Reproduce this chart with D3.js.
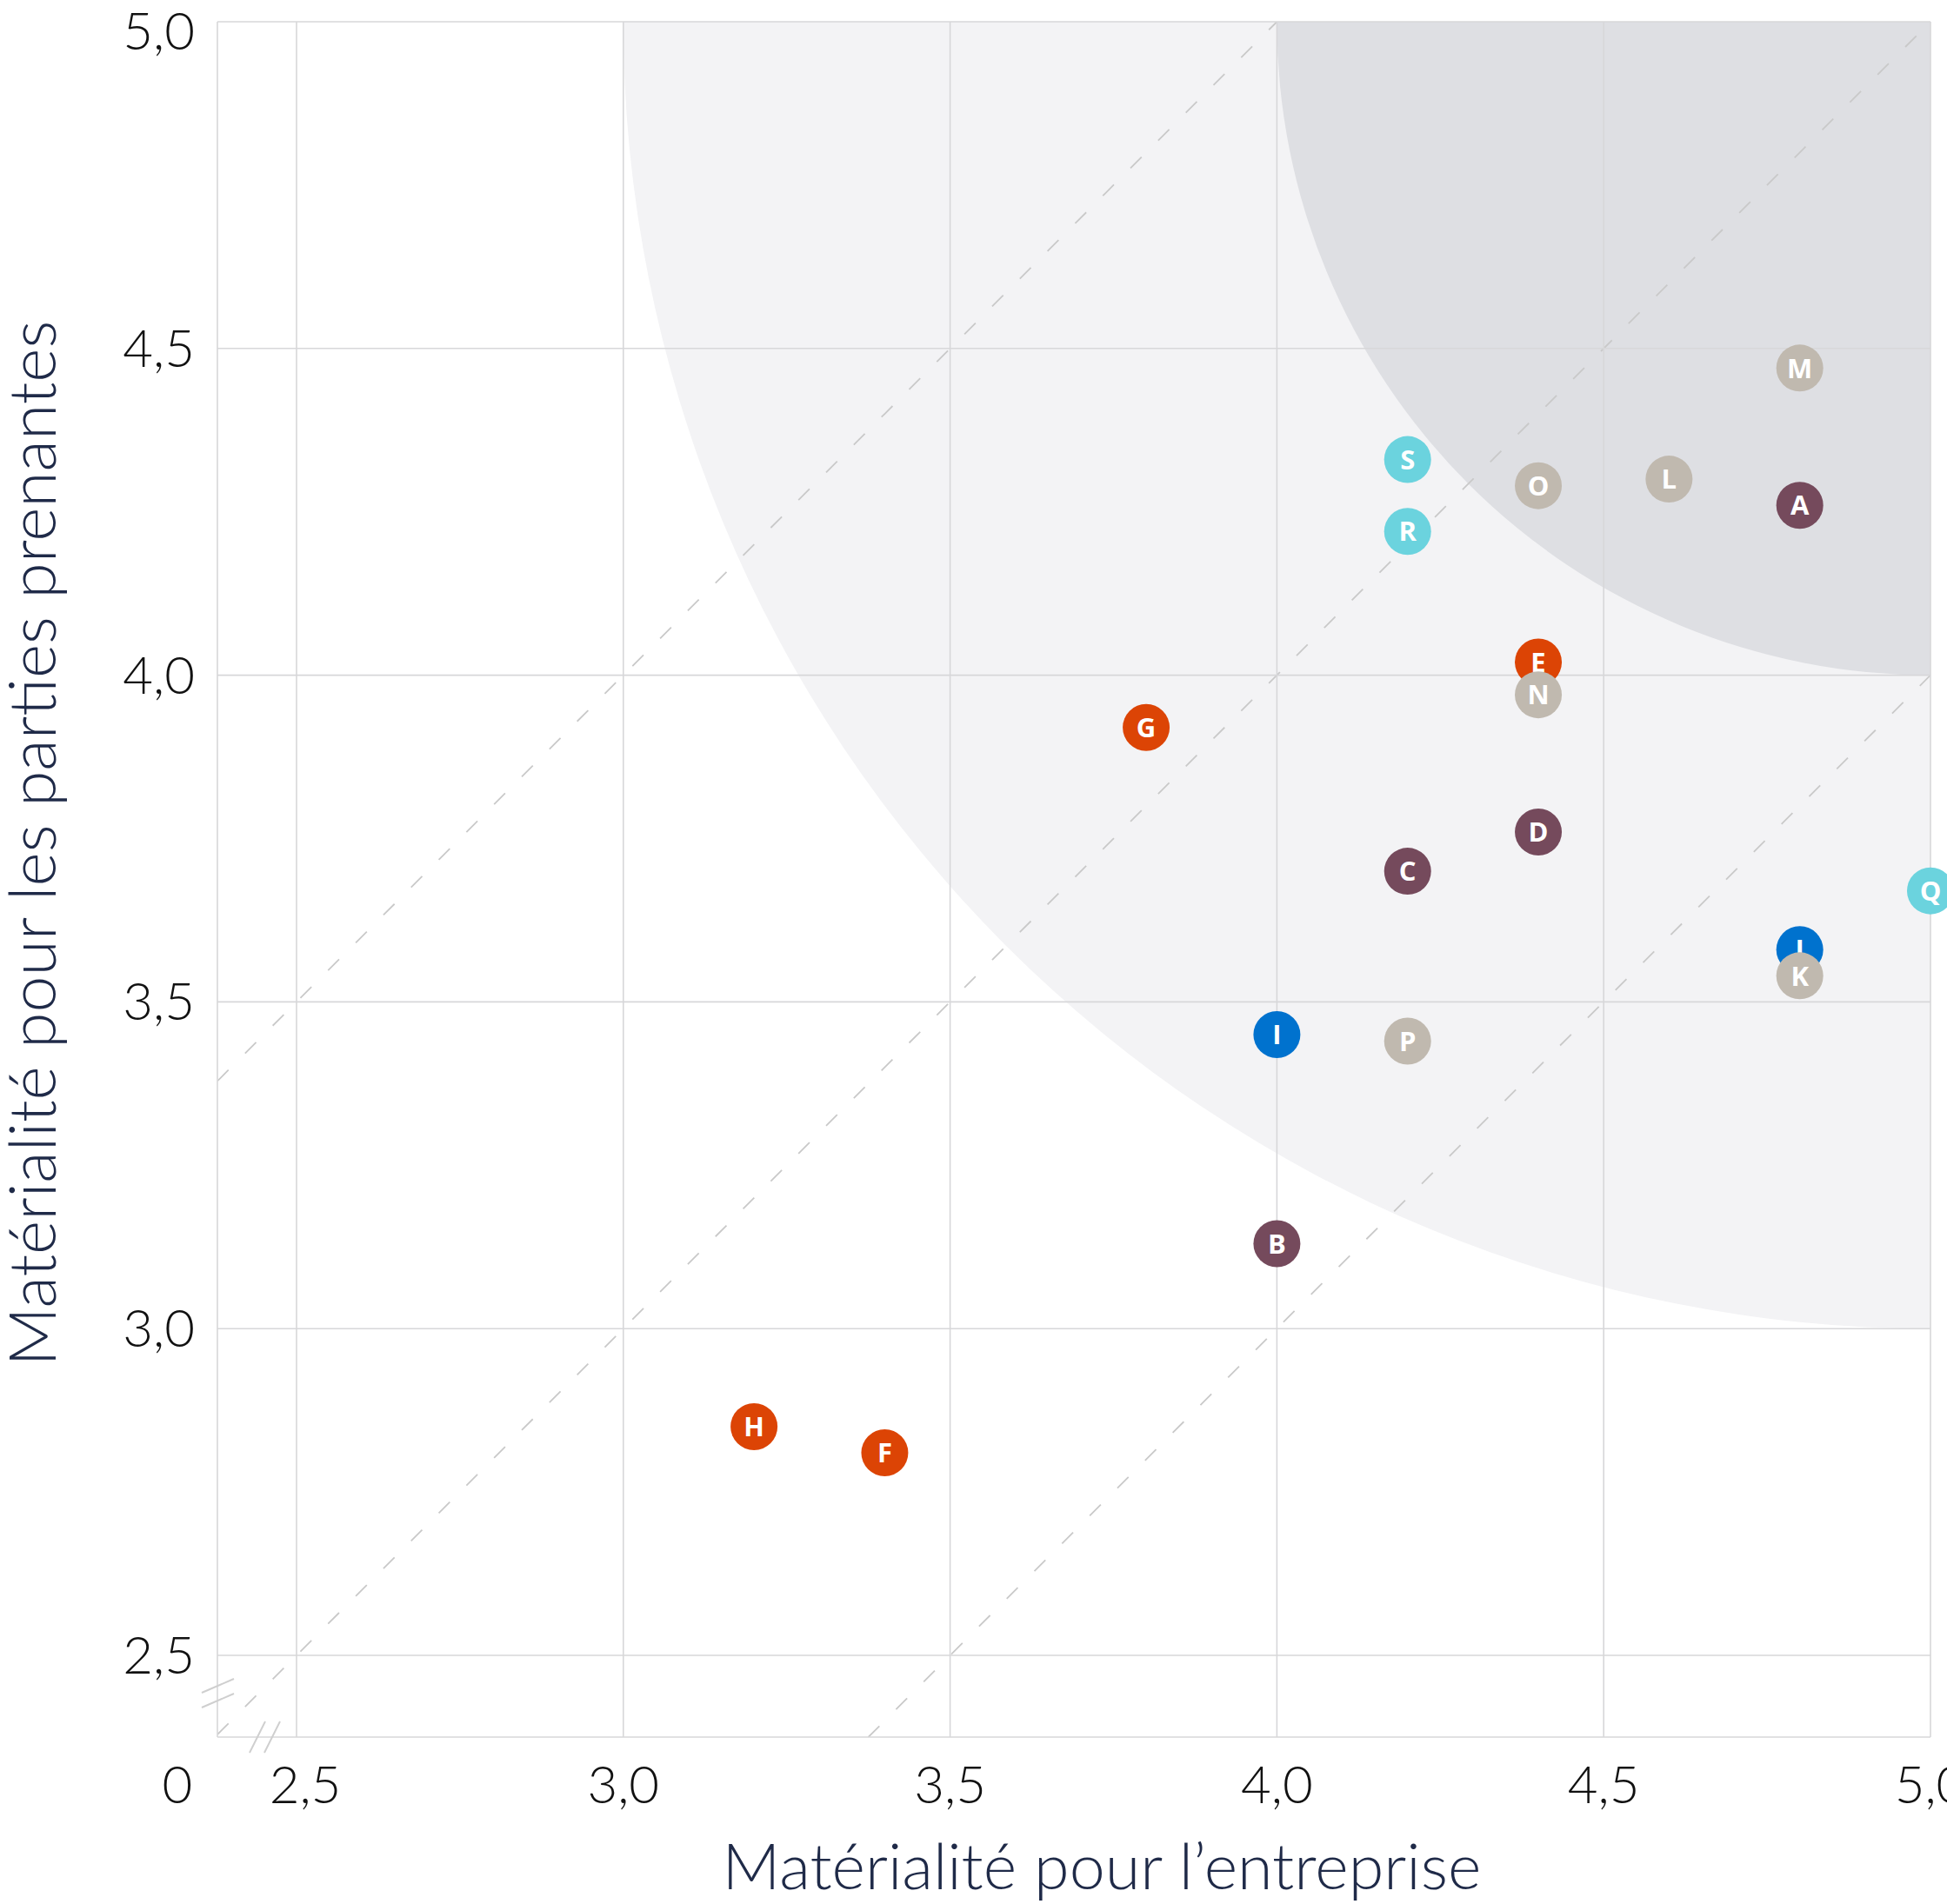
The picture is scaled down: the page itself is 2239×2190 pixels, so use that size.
<!DOCTYPE html>
<html>
<head>
<meta charset="utf-8">
<script src="https://cdn.jsdelivr.net/npm/d3@7"></script>
<style>
  html, body { margin: 0; padding: 0; background: #ffffff; }
  svg { display: block; }
</style>
</head>
<body>
<svg id="chart" width="2239" height="2190"></svg>
<script>
// ---------- data ----------
const labels = ["A","B","C","D","E","F","G","H","I","J","K","L","M","N","O","P","Q","R","S"];
const xValues = [4.80, 4.00, 4.20, 4.40, 4.40, 3.40, 3.80, 3.20, 4.00, 4.80, 4.80, 4.60, 4.80, 4.40, 4.40, 4.20, 5.00, 4.20, 4.20];
const yValues = [4.26, 3.13, 3.70, 3.76, 4.02, 2.81, 3.92, 2.85, 3.45, 3.58, 3.54, 4.30, 4.47, 3.97, 4.29, 3.44, 3.67, 4.22, 4.33];
const groups  = ["g1","g1","g1","g1","g2","g2","g2","g2","g3","g3","g4","g4","g4","g4","g4","g4","g5","g5","g5"];
const groupNames  = ["g1","g2","g3","g4","g5"];
const groupColors = ["#754a5c","#dc4405","#0072ce","#c0b9af","#6bd3de"];
const tickValues = [2.5, 3.0, 3.5, 4.0, 4.5, 5.0];
const tickLabels = ["2,5","3,0","3,5","4,0","4,5","5,0"];
const originLabel = "0";
const zoneRadii = [2, 1];           // quarter circles around (5,5)
const zoneColors = ["#f3f3f5", "#dedfe3"];
const diagonalOffsets = [1, 0, -1]; // y = x + k
const xTitle = "Matérialité pour l’entreprise";
const yTitle = "Matérialité pour les parties prenantes";

// ---------- layout ----------
const svg = d3.select("#chart");
const plotLeft = 250, plotRight = 2220, plotTop = 25, plotBottom = 1998;
const x = d3.scaleLinear().domain([2.5, 5]).range([341, 2220]);
const y = d3.scaleLinear().domain([2.5, 5]).range([1904, 25]);
const color = d3.scaleOrdinal().domain(groupNames).range(groupColors);
const gridColor = "#d7d7d9";
const tickFont = "Lato, 'Open Sans', sans-serif";

svg.append("rect").attr("width", 2239).attr("height", 2190).attr("fill", "#ffffff");

svg.append("defs").append("clipPath").attr("id", "plotclip")
  .append("rect").attr("x", plotLeft).attr("y", plotTop)
  .attr("width", plotRight - plotLeft).attr("height", plotBottom - plotTop);

const plot = svg.append("g").attr("clip-path", "url(#plotclip)");

// zones
plot.selectAll("circle.zone").data(zoneRadii).join("circle")
  .attr("class", "zone")
  .attr("cx", x(5)).attr("cy", y(5))
  .attr("r", d => x(5) - x(5 - d))
  .attr("fill", (d, i) => zoneColors[i]);

// grid
const grid = svg.append("g").attr("stroke", gridColor).attr("stroke-width", 1.6).attr("fill", "none");
grid.selectAll("line.v").data(tickValues).join("line")
  .attr("x1", d => x(d)).attr("x2", d => x(d)).attr("y1", plotTop).attr("y2", plotBottom);
grid.selectAll("line.h").data(tickValues).join("line")
  .attr("y1", d => y(d)).attr("y2", d => y(d)).attr("x1", plotLeft).attr("x2", plotRight);
grid.append("line").attr("x1", plotLeft).attr("x2", plotLeft).attr("y1", plotTop).attr("y2", plotBottom);
grid.append("line").attr("x1", plotLeft).attr("x2", plotRight).attr("y1", plotBottom).attr("y2", plotBottom);

// diagonals
const xMin = x.invert(plotLeft), yMin = y.invert(plotBottom);
plot.selectAll("line.diag").data(diagonalOffsets).join("line")
  .attr("class", "diag")
  .attr("x1", k => x(Math.max(xMin, yMin - k)))
  .attr("y1", k => y(Math.max(xMin, yMin - k) + k))
  .attr("x2", k => x(Math.min(5, 5 - k)))
  .attr("y2", k => y(Math.min(5, 5 - k) + k))
  .attr("stroke", "#c9c9c9").attr("stroke-width", 1.8)
  .attr("stroke-dasharray", "18,27");

// axis breaks
const brk = svg.append("g").attr("stroke", "#cfcfcf").attr("stroke-width", 2);
[1939, 1956].forEach(cy => {
  brk.append("line").attr("x1", plotLeft - 18).attr("y1", cy + 8).attr("x2", plotLeft + 19).attr("y2", cy - 8);
});
[296, 313].forEach(cx => {
  brk.append("line").attr("x1", cx - 9).attr("y1", plotBottom + 18).attr("x2", cx + 9).attr("y2", plotBottom - 18);
});

// tick labels
const ticks = svg.append("g").attr("font-family", tickFont).attr("font-weight", 300)
  .attr("font-size", 60).attr("fill", "#111111");
ticks.selectAll("text.y").data(tickValues).join("text")
  .attr("x", 224)
  .attr("y", d => Math.max(y(d), 36) + 21)
  .attr("text-anchor", "end")
  .text((d, i) => tickLabels[i]);
ticks.selectAll("text.x").data(tickValues).join("text")
  .attr("x", (d, i) => x(d) + (i === 0 ? 10 : 0))
  .attr("y", 2074)
  .attr("text-anchor", "middle")
  .text((d, i) => tickLabels[i]);
ticks.append("text").attr("x", 204).attr("y", 2074).attr("text-anchor", "middle").text(originLabel);

// titles
function fitText(sel, target) {
  const w = sel.node().getComputedTextLength();
  const fs = parseFloat(sel.attr("font-size"));
  sel.attr("font-size", fs * target / w);
}
const xt = svg.append("text").attr("x", 1267).attr("y", 2173).attr("text-anchor", "middle")
  .attr("font-family", tickFont).attr("font-weight", 300).attr("font-size", 64)
  .attr("fill", "#1f2a48").text(xTitle);
fitText(xt, 873);
const yt = svg.append("text").attr("transform", "translate(64,970) rotate(-90)").attr("text-anchor", "middle")
  .attr("font-family", tickFont).attr("font-weight", 300).attr("font-size", 64)
  .attr("fill", "#1f2a48").text(yTitle);
fitText(yt, 1203);

// points
const pts = labels.map((l, i) => ({ label: l, x: xValues[i], y: yValues[i], g: groups[i] }));
const pg = svg.append("g").selectAll("g").data(pts).join("g")
  .attr("transform", d => `translate(${x(d.x)},${y(d.y)})`);
pg.append("circle").attr("r", 27).attr("fill", d => color(d.g));
pg.append("text").attr("text-anchor", "middle").attr("dy", "0.36em")
  .attr("font-family", "'Open Sans', 'Noto Sans', sans-serif").attr("font-weight", 700)
  .attr("font-size", 31).attr("fill", "#ffffff").text(d => d.label);
</script>
</body>
</html>
